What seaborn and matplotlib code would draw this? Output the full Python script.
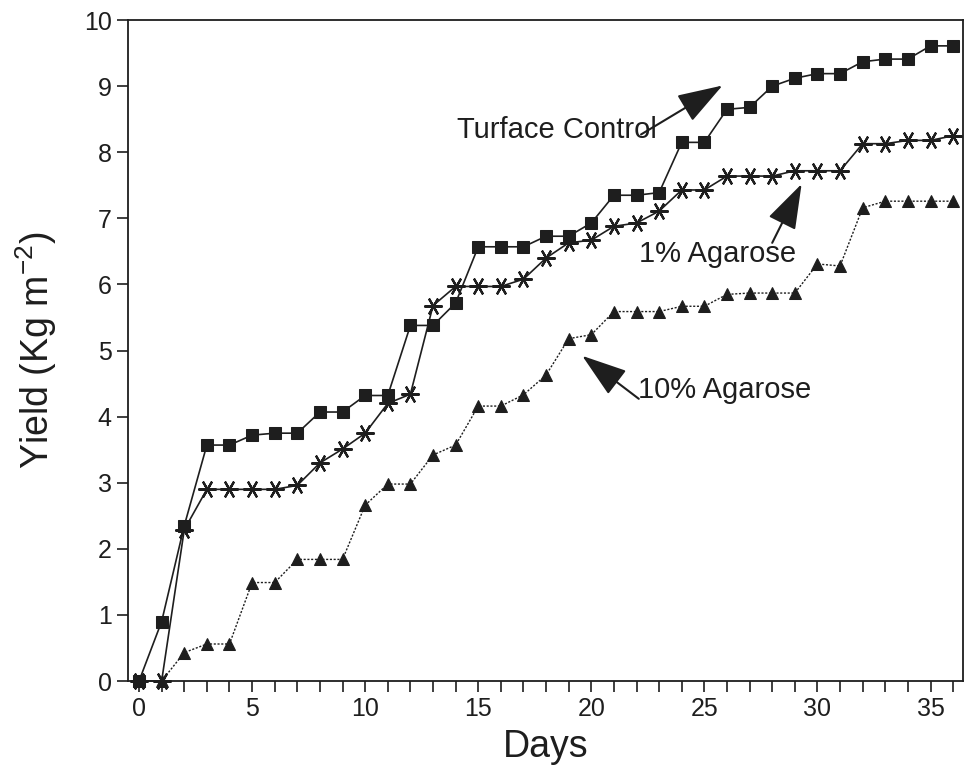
import numpy as np
import pandas as pd
import matplotlib
matplotlib.use("Agg")
import matplotlib.pyplot as plt
import seaborn as sns
from matplotlib.ticker import MultipleLocator

days = list(range(0, 37))

turface = [0, 0.9, 2.35, 3.57, 3.57, 3.72, 3.75, 3.75, 4.07, 4.07,
           4.32, 4.32, 5.38, 5.38, 5.72, 6.57, 6.57, 6.57, 6.73, 6.73,
           6.93, 7.35, 7.35, 7.39, 8.15, 8.15, 8.65, 8.68, 9.0, 9.12,
           9.19, 9.19, 9.37, 9.41, 9.41, 9.61, 9.61]

agarose1 = [0, 0, 2.29, 2.9, 2.9, 2.9, 2.9, 2.96, 3.3, 3.51,
            3.75, 4.2, 4.34, 5.68, 5.97, 5.97, 5.97, 6.08, 6.4, 6.63,
            6.67, 6.88, 6.93, 7.11, 7.43, 7.43, 7.64, 7.64, 7.64, 7.72,
            7.72, 7.72, 8.13, 8.13, 8.18, 8.18, 8.25]

agarose10 = [0, 0, 0.43, 0.56, 0.56, 1.49, 1.49, 1.84, 1.84, 1.84,
             2.66, 2.98, 2.98, 3.42, 3.57, 4.16, 4.16, 4.33, 4.63, 5.18,
             5.24, 5.59, 5.59, 5.59, 5.67, 5.67, 5.85, 5.87, 5.87, 5.87,
             6.31, 6.28, 7.16, 7.26, 7.26, 7.26, 7.26]

sns.set_style("ticks")
plt.rcParams['font.family'] = ['Liberation Sans', 'DejaVu Sans']

fig = plt.figure(figsize=(9.75, 7.73), dpi=100)
ax = fig.add_axes([0.131, 0.119, 0.857, 0.855])

df = pd.DataFrame({"day": days, "turface": turface,
                   "a1": agarose1, "a10": agarose10})

ink = "#1e1e1e"

sns.lineplot(data=df, x="day", y="a10", ax=ax, color=ink, lw=1.0,
             linestyle=(0, (1.5, 1.2)), marker="^", markersize=8,
             markeredgecolor=ink, clip_on=False, zorder=3)
sns.lineplot(data=df, x="day", y="a1", ax=ax, color=ink, lw=1.2,
             marker=(6, 2, 90), markersize=13, markeredgewidth=1.6,
             markeredgecolor=ink, clip_on=False, zorder=4)
sns.lineplot(data=df, x="day", y="turface", ax=ax, color=ink, lw=1.2,
             marker="s", markersize=9, markeredgecolor=ink,
             clip_on=False, zorder=5)

ax.set_xlim(-0.5, 36.45)
ax.set_ylim(0, 10)
ax.xaxis.set_major_locator(MultipleLocator(5))
ax.xaxis.set_minor_locator(MultipleLocator(1))
ax.yaxis.set_major_locator(MultipleLocator(1))
ax.tick_params(axis="both", which="both", direction="out", length=8,
               width=1.2, color=ink, labelsize=18, labelcolor=ink)
for s in ax.spines.values():
    s.set_linewidth(1.3)
    s.set_color(ink)

ax.set_xlabel("Days", fontsize=27, color=ink, labelpad=6)
ax.set_ylabel("Yield (Kg m$^{\\mathregular{-2}}$)", fontsize=27,
              color=ink, labelpad=18)

arrow = dict(arrowstyle="-|>,head_length=1.35,head_width=0.45",
             mutation_scale=21, color=ink, lw=1.5,
             shrinkA=0, shrinkB=0)
txt = dict(fontsize=21, color=ink, va="center", ha="center")

ax.text(18.5, 8.33, "Turface Control", **txt)
ax.annotate("", xy=(25.8, 9.01), xytext=(22.2, 8.27), arrowprops=arrow)
ax.text(25.6, 6.46, "1% Agarose", **txt)
ax.annotate("", xy=(29.3, 7.52), xytext=(28.0, 6.63), arrowprops=arrow)
ax.text(25.9, 4.41, "10% Agarose", **txt)
ax.annotate("", xy=(19.6, 4.92), xytext=(22.1, 4.27), arrowprops=arrow)

fig.savefig("out.png", dpi=100)
